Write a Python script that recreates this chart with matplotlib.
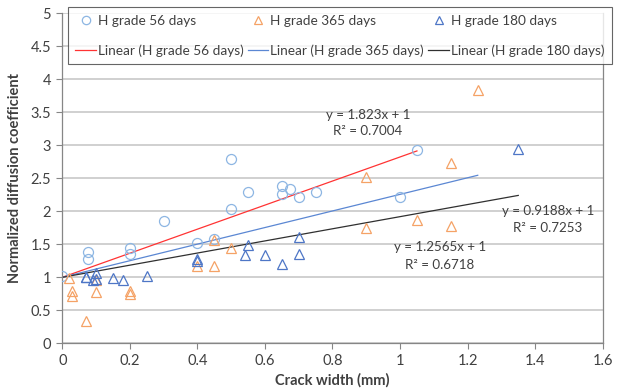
import numpy as np
import matplotlib
matplotlib.use("Agg")
import matplotlib.pyplot as plt
from matplotlib.lines import Line2D

plt.rcParams['font.family'] = ['Lato', 'DejaVu Sans']

# ---- data ----
x56 = [0, 0.075, 0.075, 0.2, 0.2, 0.3, 0.4, 0.45, 0.5, 0.5, 0.55, 0.65, 0.65, 0.675, 0.7, 0.75, 1.0, 1.05]
y56 = [1.02, 1.38, 1.28, 1.44, 1.35, 1.85, 1.52, 1.58, 2.79, 2.04, 2.29, 2.39, 2.26, 2.34, 2.21, 2.29, 2.22, 2.93]

x365 = [0.02, 0.03, 0.03, 0.07, 0.1, 0.1, 0.2, 0.2, 0.4, 0.45, 0.45, 0.5, 0.9, 0.9, 1.05, 1.15, 1.15, 1.23]
y365 = [0.99, 0.79, 0.72, 0.34, 0.77, 0.96, 0.79, 0.75, 1.17, 1.17, 1.57, 1.44, 2.52, 1.74, 1.87, 2.73, 1.78, 3.83]

x180 = [0.07, 0.07, 0.1, 0.09, 0.1, 0.15, 0.18, 0.25, 0.4, 0.4, 0.54, 0.55, 0.6, 0.65, 0.7, 0.7, 1.35]
y180 = [1.01, 1.0, 1.07, 0.96, 0.97, 0.99, 0.96, 1.02, 1.28, 1.24, 1.34, 1.49, 1.34, 1.2, 1.35, 1.61, 2.94]

series_names = ["H grade 56 days", "H grade 365 days", "H grade 180 days"]
slopes = [1.823, 1.2565, 0.9188]
intercept = 1.0
r2_values = [0.7004, 0.6718, 0.7253]

x_ticks = [0, 0.2, 0.4, 0.6, 0.8, 1, 1.2, 1.4, 1.6]
x_tick_labels = ["0", "0.2", "0.4", "0.6", "0.8", "1", "1.2", "1.4", "1.6"]
y_ticks = [0, 0.5, 1, 1.5, 2, 2.5, 3, 3.5, 4, 4.5, 5]
y_tick_labels = ["0", "0.5", "1", "1.5", "2", "2.5", "3", "3.5", "4", "4.5", "5"]

# ---- style ----
c56 = "#8DB6E3"
c365 = "#F5A266"
c180 = "#4E76C6"
line_colors = ["#FF3333", "#5B87D3", "#303030"]
text_col = "#404040"
grid_col = "#C8C8C8"

fig = plt.figure(figsize=(6.23, 3.90), dpi=100)
ax = fig.add_axes([0.1, 0.1197, 0.8674, 0.8463])

ms = 7.2
mew = 0.9
ax.plot(x56, y56, linestyle="none", marker="o", markersize=ms, markerfacecolor="none",
        markeredgecolor=c56, markeredgewidth=mew, zorder=3)
ax.plot(x365, y365, linestyle="none", marker="^", markersize=ms, markerfacecolor="none",
        markeredgecolor=c365, markeredgewidth=mew, zorder=3)
ax.plot(x180, y180, linestyle="none", marker="^", markersize=ms, markerfacecolor="none",
        markeredgecolor=c180, markeredgewidth=mew, zorder=3)

# trend lines (intercept fixed at 1) spanning each series' x range
for xs, s, col in zip([x56, x365, x180], slopes, line_colors):
    xl = np.array([0.0, max(xs)])
    ax.plot(xl, intercept + s * xl, color=col, linewidth=0.9, zorder=2)

# equation labels
eq_pos = [(0.905, 3.46, 3.22), (1.118, 1.455, 1.19), (1.437, 2.0, 1.74)]
for (xp, ye, yr), s, r2 in zip(eq_pos, slopes, r2_values):
    ax.text(xp, ye, f"y = {s:g}x + 1", ha="center", va="center", fontsize=9.6, color=text_col, zorder=4)
    ax.text(xp, yr, f"R² = {r2:.4f}", ha="center", va="center", fontsize=9.6, color=text_col, zorder=4)

ax.set_xlim(0, 1.6)
ax.set_ylim(0, 5)
ax.set_xticks(x_ticks)
ax.set_xticklabels(x_tick_labels)
ax.set_yticks(y_ticks)
ax.set_yticklabels(y_tick_labels)
ax.tick_params(axis="both", direction="out", length=4, width=0.8, color="#868686",
               labelsize=10.5, labelcolor=text_col, pad=4)
ax.yaxis.grid(True, color=grid_col, linewidth=1.2, zorder=0)
ax.set_axisbelow(True)
for side in ["left", "bottom", "right"]:
    ax.spines[side].set_color("#868686")
    ax.spines[side].set_linewidth(0.9)
ax.spines["top"].set_visible(False)

ax.set_xlabel("Crack width (mm)", fontsize=10.5, fontweight="bold", color=text_col, labelpad=3)
ax.set_ylabel("Normalized diffusion coefficient", fontsize=10.5, fontweight="bold", color=text_col, labelpad=6)

# legend
handles = []
labels = []
mk = [("o", c56), ("^", c365), ("^", c180)]
for (m, c), name, lc in zip(mk, series_names, line_colors):
    handles.append(Line2D([], [], linestyle="none", marker=m, markersize=6, markerfacecolor="none",
                          markeredgecolor=c, markeredgewidth=mew))
    labels.append(name)
    handles.append(Line2D([], [], color=lc, linewidth=0.9))
    labels.append(f"Linear ({name})")

leg = fig.legend(handles, labels, ncol=3, loc="center", mode="expand",
                 bbox_to_anchor=(0.109, 0.829, 0.873, 0.158), bbox_transform=fig.transFigure,
                 fontsize=9.8, frameon=True, fancybox=False, handlelength=1.5, handletextpad=0.15,
                 columnspacing=0.5, borderpad=0.55, labelspacing=1.3, numpoints=1,
                 borderaxespad=0)
leg.get_frame().set_edgecolor("#404040")
leg.get_frame().set_linewidth(0.8)
for t in leg.get_texts():
    t.set_color(text_col)

fig.savefig("out.png", dpi=100)
